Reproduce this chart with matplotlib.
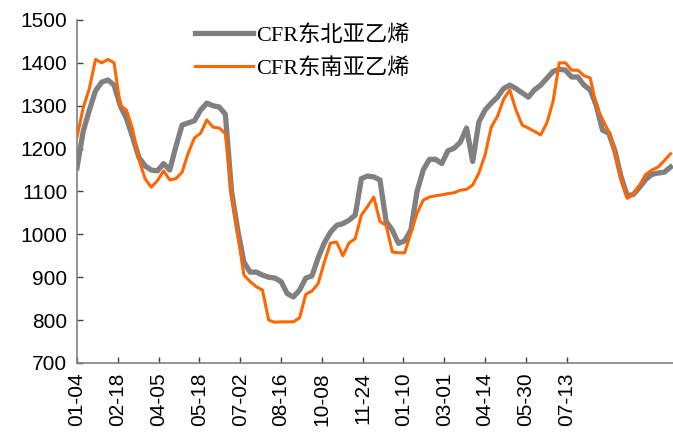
import numpy as np
import matplotlib
matplotlib.use('Agg')
import matplotlib.pyplot as plt

plt.rcParams['font.family'] = ['Liberation Sans', 'DejaVu Sans']

# trading-day index of each sample (one sample every 5 trading days)
days = np.arange(0, 485, 5)

tick_days = np.arange(0, 13 * 33, 33)
tick_labels = ['01-04', '02-18', '04-05', '05-18', '07-02', '08-16', '10-08',
               '11-24', '01-10', '03-01', '04-14', '05-30', '07-13']

ne_asia = [1155, 1240, 1290, 1335, 1355, 1360, 1348, 1300, 1270, 1227,
           1180, 1160, 1150, 1148, 1165, 1150, 1205, 1255, 1260, 1265,
           1290, 1306, 1300, 1297, 1280, 1100, 1010, 935, 912, 912,
           905, 900, 898, 890, 862, 854, 870, 898, 903, 945,
           980, 1005, 1021, 1025, 1033, 1045, 1130, 1136, 1134, 1127,
           1030, 1010, 979, 985, 1010, 1100, 1150, 1175, 1175, 1165,
           1195, 1201, 1215, 1248, 1170, 1262, 1290, 1306, 1320, 1340,
           1348, 1340, 1330, 1320, 1337, 1348, 1364, 1380, 1385, 1383,
           1367, 1367, 1348, 1337, 1300, 1243, 1236, 1195, 1134, 1090,
           1093, 1110, 1128, 1140, 1143, 1145, 1157]

se_asia = [1227, 1295, 1340, 1408, 1400, 1408, 1400, 1300, 1290, 1245,
           1175, 1130, 1110, 1125, 1148, 1127, 1130, 1145, 1190, 1225,
           1236, 1267, 1250, 1248, 1235, 1100, 1000, 905, 890, 878,
           870, 800, 795, 796, 796, 796, 805, 860, 868, 885,
           935, 980, 982, 950, 980, 990, 1045, 1065, 1087, 1030,
           1021, 959, 957, 957, 1003, 1049, 1080, 1087, 1090, 1092,
           1095, 1097, 1103, 1105, 1115, 1143, 1185, 1250, 1275, 1315,
           1337, 1290, 1255, 1248, 1240, 1232, 1260, 1310, 1400, 1400,
           1383, 1383, 1370, 1365, 1300, 1268, 1240, 1195, 1130, 1084,
           1094, 1115, 1140, 1150, 1157, 1172, 1188]

fig = plt.figure(figsize=(6.73, 4.34), dpi=100)
ax = fig.add_axes([0.1144, 0.1636, 0.8856, 0.7904])

ax.plot(days, ne_asia, color='#808080', lw=3.8, solid_joinstyle='round',
        label='CFR东北亚乙烯', zorder=2)
ax.plot(days, se_asia, color='#FF6600', lw=2.2, solid_joinstyle='round',
        label='CFR东南亚乙烯', zorder=3)

ax.set_xlim(0, 482)
ax.set_ylim(700, 1500)
ax.set_yticks(np.arange(700, 1501, 100))
ax.set_xticks(tick_days)
ax.set_xticklabels(tick_labels, rotation=90)

for s in ['top', 'right']:
    ax.spines[s].set_visible(False)
for s in ['left', 'bottom']:
    ax.spines[s].set_color('#808080')
    ax.spines[s].set_linewidth(1.2)

ax.tick_params(axis='both', direction='in', length=4, width=1,
               color='#404040', labelsize=15, labelcolor='black')
ax.tick_params(axis='y', pad=7)
ax.tick_params(axis='x', pad=7)

leg = ax.legend(loc='upper left', bbox_to_anchor=(195 / 673, 1 - 25 / 434),
                bbox_transform=fig.transFigure, frameon=False,
                borderpad=0, borderaxespad=0, handlelength=2.6,
                handletextpad=0.15, labelspacing=0.55,
                prop={'family': ['Liberation Serif', 'Noto Sans CJK SC'],
                      'size': 16})

fig.savefig('out.png', dpi=100)
